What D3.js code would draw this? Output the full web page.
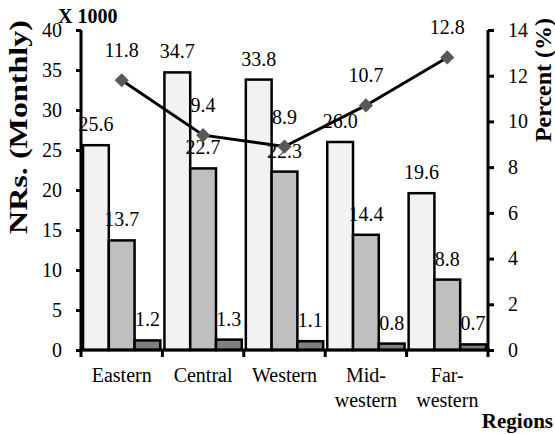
<html>
<head>
<meta charset="utf-8">
<script src="https://cdn.jsdelivr.net/npm/d3@7"></script>
<style>
  @font-face { font-family: "ChartSerif"; src: local("Liberation Serif"), local("LiberationSerif"); font-weight: normal; }
  @font-face { font-family: "ChartSerif"; src: local("Liberation Serif Bold"), local("LiberationSerif-Bold"); font-weight: bold; }
</style>
</head>
<body style="margin:0;background:#fff">
<svg id="chart" width="555" height="434"></svg>
<script>
// Regional income (thousand NRs per month) and share (%)
const regions = ["Eastern", "Central", "Western", "Mid-western", "Far-western"];
const regionLines = [["Eastern"], ["Central"], ["Western"], ["Mid-", "western"], ["Far-", "western"]];
const seriesA = [25.6, 34.7, 33.8, 26.0, 19.6];
const seriesB = [13.7, 22.7, 22.3, 14.4, 8.8];
const seriesC = [1.2, 1.3, 1.1, 0.8, 0.7];
const percent = [11.8, 9.4, 8.9, 10.7, 12.8];
const leftTicks = [0, 5, 10, 15, 20, 25, 30, 35, 40];
const rightTicks = [0, 2, 4, 6, 8, 10, 12, 14];

const barSeries = [
  { key: "a", values: seriesA, fill: "#f2f2f2" },
  { key: "b", values: seriesB, fill: "#bfbfbf" },
  { key: "c", values: seriesC, fill: "#7f7f7f" }
];

const svg = d3.select("#chart");
svg.append("style").text("text { font-family: 'Liberation Serif'; }");
const plotLeft = 81, plotRight = 488, plotTop = 30, plotBottom = 350;

const x0 = d3.scaleBand().domain(regions).range([plotLeft, plotRight])
  .paddingInner(0.05).paddingOuter(0.025);
const x1 = d3.scaleBand().domain(barSeries.map(s => s.key)).range([0, x0.bandwidth()]);
const yL = d3.scaleLinear().domain([0, 40]).range([plotBottom, plotTop]);
const yR = d3.scaleLinear().domain([0, 14]).range([plotBottom, plotTop]);

// bars
const groups = svg.append("g").selectAll("g")
  .data(regions).join("g")
  .attr("transform", d => `translate(${x0(d)},0)`);

groups.selectAll("rect")
  .data((d, i) => barSeries.map(s => ({ key: s.key, v: s.values[i], fill: s.fill })))
  .join("rect")
  .attr("x", d => x1(d.key))
  .attr("width", x1.bandwidth())
  .attr("y", d => yL(d.v))
  .attr("height", d => yL(0) - yL(d.v))
  .attr("fill", d => d.fill)
  .attr("stroke", "#000")
  .attr("stroke-width", 2.5);

groups.selectAll("text")
  .data((d, i) => barSeries.map(s => ({ key: s.key, v: s.values[i] })))
  .join("text")
  .attr("x", d => x1(d.key) + x1.bandwidth() / 2)
  .attr("y", d => yL(d.v) - 14)
  .attr("text-anchor", "middle")
  .attr("font-size", 20)
  .attr("fill", "#000")
  .text(d => d.v.toFixed(1));

// axes
const axisLeft = svg.append("g").attr("transform", `translate(${plotLeft},0)`)
  .call(d3.axisLeft(yL).tickValues(leftTicks).tickSize(5).tickPadding(14));
const axisRight = svg.append("g").attr("transform", `translate(${plotRight},0)`)
  .call(d3.axisRight(yR).tickValues(rightTicks).tickSize(6).tickPadding(14));

[axisLeft, axisRight].forEach(a => {
  a.attr("font-family", null).attr("font-size", null);
  a.select(".domain").attr("stroke", "#000").attr("stroke-width", 3)
    .attr("d", `M0,${plotBottom + 1.5}V${plotTop}`);
  a.selectAll(".tick line").attr("stroke", "#000").attr("stroke-width", 3);
  a.selectAll(".tick text").attr("font-size", 20).attr("fill", "#000");
});

// x axis with ticks on category boundaries
const step = x0.step();
const boundaries = d3.range(regions.length + 1).map(i => plotLeft + i * step);
const xAxis = svg.append("g");
xAxis.append("line")
  .attr("x1", plotLeft - 1.5).attr("x2", plotRight + 1.5)
  .attr("y1", plotBottom).attr("y2", plotBottom)
  .attr("stroke", "#000").attr("stroke-width", 3);
xAxis.selectAll("line.tk").data(boundaries).join("line").attr("class", "tk")
  .attr("x1", d => d).attr("x2", d => d)
  .attr("y1", plotBottom).attr("y2", plotBottom + 7)
  .attr("stroke", "#000").attr("stroke-width", 3);

xAxis.selectAll("text").data(regions).join("text")
  .attr("x", d => x0(d) + x0.bandwidth() / 2)
  .attr("y", 382)
  .attr("text-anchor", "middle")
  .attr("font-size", 20)
  .attr("fill", "#000")
  .each(function (d, i) {
    const t = d3.select(this);
    regionLines[i].forEach((ln, j) => {
      t.append("tspan")
        .attr("x", x0(d) + x0.bandwidth() / 2)
        .attr("dy", j === 0 ? 0 : 25)
        .text(ln);
    });
  });

// percentage line
const cx = d => x0(d) + x0.bandwidth() / 2;
const line = d3.line().x((d, i) => cx(regions[i])).y(d => yR(d));
svg.append("path").datum(percent)
  .attr("d", line)
  .attr("fill", "none").attr("stroke", "#000").attr("stroke-width", 3);

svg.append("g").selectAll("path").data(percent).join("path")
  .attr("transform", (d, i) => `translate(${cx(regions[i])},${yR(d)}) rotate(45)`)
  .attr("d", d3.symbol().type(d3.symbolSquare).size(100))
  .attr("fill", "#595959");

svg.append("g").selectAll("text").data(percent).join("text")
  .attr("x", (d, i) => cx(regions[i]))
  .attr("y", d => yR(d) - 23)
  .attr("text-anchor", "middle")
  .attr("font-size", 20)
  .attr("fill", "#000")
  .text(d => d.toFixed(1));

// titles
svg.append("text")
  .attr("transform", "translate(27,127) rotate(-90)")
  .attr("text-anchor", "middle")
  .attr("font-size", 26).attr("font-weight", "bold")
  .attr("textLength", 214).attr("lengthAdjust", "spacingAndGlyphs")
  .text("NRs. (Monthly)");

svg.append("text")
  .attr("transform", "translate(551,80) rotate(-90)")
  .attr("text-anchor", "middle")
  .attr("font-size", 24).attr("font-weight", "bold")
  .text("Percent (%)");

svg.append("text")
  .attr("x", 58).attr("y", 23)
  .attr("font-size", 20).attr("font-weight", "bold")
  .text("X 1000");

svg.append("text")
  .attr("x", 553).attr("y", 428)
  .attr("text-anchor", "end")
  .attr("font-size", 21).attr("font-weight", "bold")
  .text("Regions");

// one serif face for every label
svg.selectAll("text").style("font-family", "'Liberation Serif'");
</script>
</body>
</html>
